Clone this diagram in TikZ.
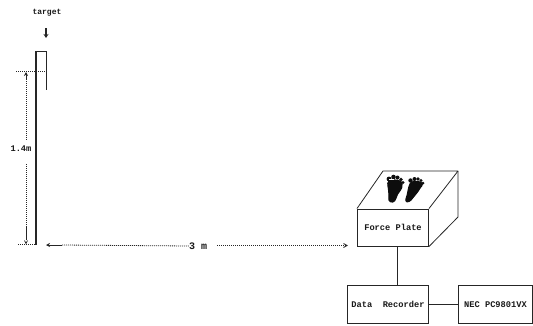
\documentclass[tikz,border=0pt]{standalone}
\usepackage{fontspec}
\setmainfont{Liberation Mono}
\usetikzlibrary{arrows.meta}
\tikzset{
  x=1pt,y=-1pt,
  lbl/.style={inner sep=0pt,font=\bfseries\fontsize{8.7}{10}\selectfont,text=black!90},
  dim/.style={line width=.8pt,dash pattern=on 1pt off 1pt,black!85},
  solid line/.style={line width=1.5pt,black!85},
  thin line/.style={line width=.8pt,black!85},
  boxn/.style={draw=black!85,line width=1pt,inner sep=0pt,anchor=north west},
  foot/.style={fill=black!95,draw=black!95,line width=1.2pt,line join=round},
  toe/.style={fill=black!95}
}
\begin{document}
\begin{tikzpicture}
\useasboundingbox (0,0) rectangle (533,325);
% target
\node[lbl,font=\bfseries\fontsize{8}{10}\selectfont] (target) at (47,13) {target};
\coordinate (tipT) at (46,28);
\coordinate (tipB) at (46,38);
\draw[-{Stealth[length=4pt,width=5pt]},line width=1.6pt,black!85] (tipT) -- (tipB);
% pole
\coordinate (poleTop) at (36,51);
\coordinate (poleBot) at (36,245);
\coordinate (flagTop) at (46,51);
\coordinate (flagBot) at (46,90);
\draw[solid line] (poleBot) -- (poleTop);
\draw[thin line] (poleTop) -- (flagTop) -- (flagBot);
% 1.4 m
\coordinate (h1a) at (16,71);
\coordinate (h1b) at (45,71);
\coordinate (h2a) at (18,244);
\coordinate (h2b) at (36,244);
\draw[dim,line width=.6pt] (h1a) -- (h1b);
\draw[dim,line width=.6pt] (h2a) -- (h2b);
\node[lbl] (hlabel) at (21,149) {1.4m};
\coordinate (vT) at (26,72);
\coordinate (vB) at (26,244);
\draw[thin line,{Stealth[length=4pt,width=4pt]}-] (vT) -- (26,79);
\draw[dim] (26,79) -- (26,141);
\draw[dim] (26,164) -- (26,226);
\draw[thin line] (26,226) -- (26,240);
\draw[line width=.7pt,black!85] (24.5,240.5) -- (26,243.5) -- (27.5,240.5);
% 3 m
\node[lbl,font=\bfseries\fontsize{10}{10}\selectfont] (dist) at (198,246) {3 m};
\coordinate (dL) at (46,245);
\coordinate (dR) at (347,245.5);
\draw[thin line,{Stealth[length=4pt,width=4pt]}-] (dL) -- (62,245);
\draw[dim] (62,245) -- (dist.west);
\draw[dim] (217,245.5) -- (dR);
\draw[line width=.9pt,black!85] (343.5,243.5) -- (dR) -- (343.5,247.5);
% force plate
\node[boxn,minimum width=71pt,minimum height=37pt,lbl] (fp) at (357,208.5) {Force Plate};
\coordinate (b1) at (383,171);
\coordinate (b2) at (458,171);
\coordinate (b3) at (458,217);
\draw[thin line,line join=round] (fp.north west) -- (b1) -- (b2) -- (fp.north east);
\draw[thin line,line join=round] (b2) -- (b3) -- (fp.south east);
% feet
\filldraw[foot] (389,200) .. controls (390,203) and (395,203) .. (396,198)
 .. controls (397,192) and (403,190) .. (402,184)
 .. controls (402,181) and (398,180) .. (394,180)
 .. controls (389,180) and (387,182) .. (388,186)
 .. controls (389,191) and (389,195) .. (389,200) -- cycle;
\fill[toe] (389,179) circle (2.4);
\fill[toe] (393.5,177) circle (2.3);
\fill[toe] (397.5,177.5) circle (2);
\fill[toe] (401,179.5) circle (1.9);
\fill[toe] (403,182.5) circle (1.7);
\filldraw[foot] (406,199) .. controls (405,202) and (408,203) .. (411,200)
 .. controls (414,196) and (418,192) .. (420,188)
 .. controls (423,185) and (423,183) .. (420,182)
 .. controls (416,181) and (411,181) .. (410,184)
 .. controls (408,188) and (408,194) .. (406,199) -- cycle;
\fill[toe] (410.5,180.5) circle (2.2);
\fill[toe] (414.5,179) circle (2);
\fill[toe] (418,179) circle (1.8);
\fill[toe] (421,180.5) circle (1.7);
\fill[toe] (423,183) circle (1.5);
\fill[white] (389,179.2) rectangle (394,180.2);
% recorders
\node[boxn,minimum width=81pt,minimum height=38pt,lbl] (dr) at (347,285) {Data\ \ Recorder};
\node[boxn,minimum width=74pt,minimum height=38pt,lbl] (nec) at (458,285) {NEC PC9801VX};
\draw[solid line] ([xshift=4.5pt]fp.south) -- ([xshift=4.5pt]fp.south |- dr.north);
\draw[solid line] (dr.east) -- (nec.west);
\end{tikzpicture}
\end{document}
